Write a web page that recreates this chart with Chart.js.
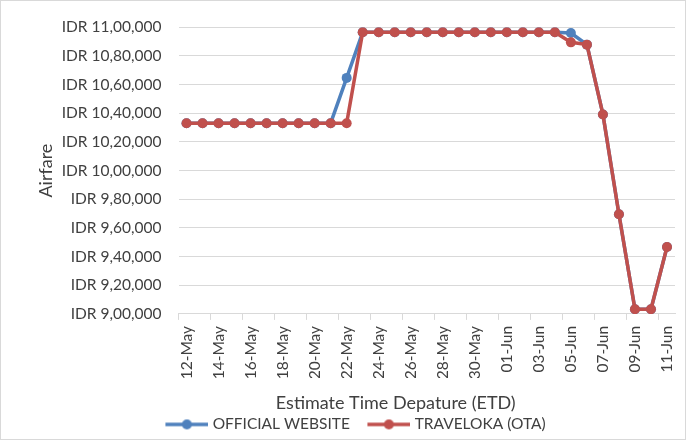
<!DOCTYPE html>
<html>
<head>
<meta charset="utf-8">
<script src="https://cdn.jsdelivr.net/npm/chart.js@4.4.0/dist/chart.umd.min.js"></script>
<style>
  html, body { margin: 0; padding: 0; background: #fff; }
  #wrap { width: 686px; height: 440px; box-sizing: border-box; border: 1px solid #d9d9d9; }
</style>
</head>
<body>
<div id="wrap"><canvas id="fareChart"></canvas></div>
<script>
// departure dates (x categories)
const dates = [
  '12-May', '13-May', '14-May', '15-May', '16-May', '17-May', '18-May', '19-May',
  '20-May', '21-May', '22-May', '23-May', '24-May', '25-May', '26-May', '27-May',
  '28-May', '29-May', '30-May', '31-May', '01-Jun', '02-Jun', '03-Jun', '04-Jun',
  '05-Jun', '06-Jun', '07-Jun', '08-Jun', '09-Jun', '10-Jun', '11-Jun'
];

// airfare in IDR
const officialWebsite = [
  1033100, 1033100, 1033100, 1033100, 1033100, 1033100, 1033100, 1033100,
  1033100, 1033100, 1064700, 1096500, 1096500, 1096500, 1096500, 1096500,
  1096500, 1096500, 1096500, 1096500, 1096500, 1096500, 1096500, 1096500,
  1096000, 1087900, 1039200, 969500, 903300, 903300, 946700
];
const traveloka = [
  1033100, 1033100, 1033100, 1033100, 1033100, 1033100, 1033100, 1033100,
  1033100, 1033100, 1033100, 1096500, 1096500, 1096500, 1096500, 1096500,
  1096500, 1096500, 1096500, 1096500, 1096500, 1096500, 1096500, 1096500,
  1089500, 1087900, 1039200, 969500, 903300, 903300, 946700
];

const seriesNames = ['OFFICIAL WEBSITE', 'TRAVELOKA (OTA)'];
const seriesColors = ['#4F81BD', '#C0504D'];

const yMin = 900000, yMax = 1100000, yStep = 20000;

const FONT = 'Lato, "DejaVu Sans", sans-serif';
const TEXT = '#404040';
const GRID = '#d9d9d9';

// Indian style grouping: 10,80,000
function idr(v) {
  const s = String(Math.round(v));
  const last3 = s.slice(-3);
  let rest = s.slice(0, -3);
  if (rest) rest = rest.replace(/\B(?=(\d{2})+(?!\d))/g, ',') + ',';
  return 'IDR ' + rest + last3;
}

// line + dot marker for the legend (blank strip on the left = gap between items)
function legendMarker(color) {
  const c = document.createElement('canvas');
  c.width = 57; c.height = 12;
  const g = c.getContext('2d');
  g.strokeStyle = color; g.lineWidth = 3.5;
  g.beginPath(); g.moveTo(14, 6); g.lineTo(57, 6); g.stroke();
  g.fillStyle = color;
  g.beginPath(); g.arc(35.5, 6, 5, 0, Math.PI * 2); g.fill();
  return c;
}
const markers = seriesColors.map(legendMarker);

// excel puts the axis title and legend a bit left of the plot centre
function shiftBox(box, cx, cy) {
  const dx = cx - (box.left + box.right) / 2;
  const dy = cy - (box.top + box.bottom) / 2;
  box.left += dx; box.right += dx;
  box.top += dy; box.bottom += dy;
}
const nudge = {
  id: 'nudge',
  afterLayout(chart) {
    const ca = chart.chartArea;
    const mid = (ca.left + ca.right) / 2;
    if (chart.titleBlock) shiftBox(chart.titleBlock, mid - 31, ca.bottom + 89);
    if (chart.legend) shiftBox(chart.legend, mid - 76.5, ca.bottom + 112);
  }
};

new Chart(document.getElementById('fareChart'), {
  type: 'line',
  data: {
    labels: dates,
    datasets: [officialWebsite, traveloka].map((vals, i) => ({
      label: seriesNames[i],
      data: vals,
      borderColor: seriesColors[i],
      backgroundColor: seriesColors[i],
      borderWidth: 3.5,
      pointRadius: 5,
      pointHoverRadius: 5,
      pointBorderWidth: 0,
      tension: 0,
      order: i === 0 ? 1 : 0   // red drawn on top
    }))
  },
  options: {
    responsive: true,
    maintainAspectRatio: false,
    animation: false,
    layout: { padding: { left: 22, right: 10, top: 18, bottom: 3 } },
    plugins: {
      tooltip: { enabled: false },
      title: {
        display: true,
        position: 'bottom',
        weight: 500,
        text: 'Estimate Time Depature (ETD)',
        color: TEXT,
        font: { family: FONT, size: 18, weight: 'normal' },
        padding: { top: 2, bottom: 2 }
      },
      legend: {
        position: 'bottom',
        labels: {
          color: TEXT,
          font: { family: FONT, size: 15.5 },
          usePointStyle: true,
          pointStyleWidth: 50,
          padding: 7,
          generateLabels(chart) {
            const items = Chart.defaults.plugins.legend.labels.generateLabels(chart);
            items.forEach(it => { it.pointStyle = markers[it.datasetIndex]; });
            return items;
          },
          sort: (a, b) => a.datasetIndex - b.datasetIndex
        }
      }
    },
    scales: {
      x: {
        offset: true,
        afterFit: s => { s.height = 64; s.paddingLeft = 0; s.paddingRight = 0; },
        grid: {
          offset: true,
          drawOnChartArea: false,
          tickLength: 6,
          color: ctx => ctx.index % 2 === 0 ? GRID : 'rgba(0,0,0,0)'
        },
        border: { color: GRID, width: 1 },
        ticks: {
          autoSkip: false,
          maxRotation: 90,
          minRotation: 90,
          padding: 6,
          color: TEXT,
          font: { family: FONT, size: 15.5 },
          callback: (v, i) => i % 2 === 0 ? dates[i] : ''
        }
      },
      y: {
        min: yMin,
        max: yMax,
        afterFit: s => { s.width = 155.5; },
        ticks: {
          stepSize: yStep,
          padding: 17,
          color: TEXT,
          font: { family: FONT, size: 15.5 },
          callback: v => idr(v)
        },
        grid: { color: GRID, drawTicks: false },
        border: { display: false },
        title: {
          display: true,
          text: 'Airfare',
          color: TEXT,
          font: { family: FONT, size: 18 },
          padding: { top: 12, bottom: 4 }
        }
      }
    }
  },
  plugins: [nudge]
});
</script>
</body>
</html>
